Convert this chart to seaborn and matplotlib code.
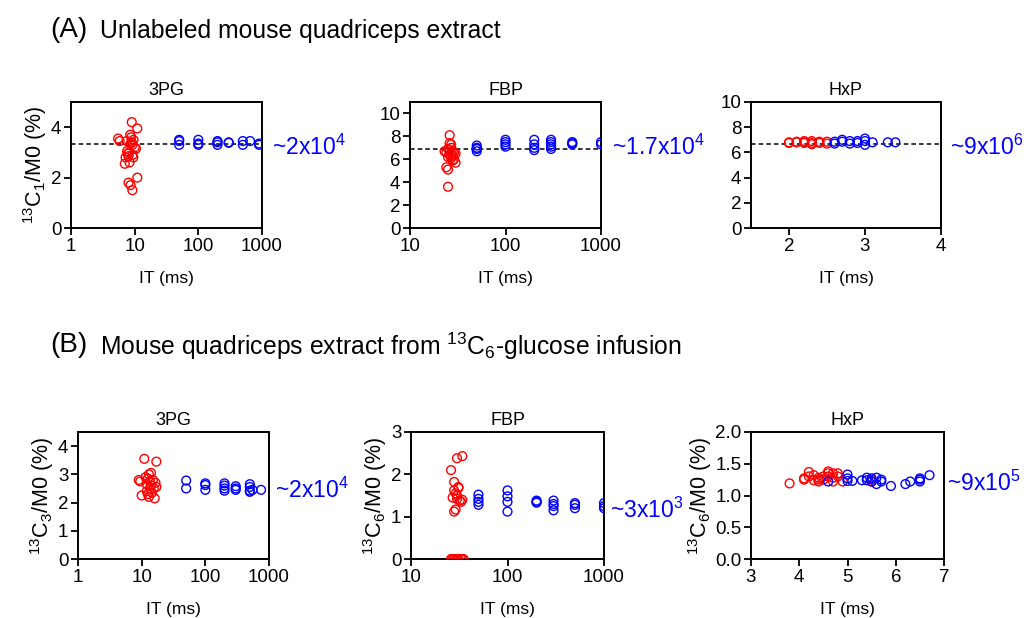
import matplotlib
matplotlib.use("Agg")
import matplotlib.pyplot as plt
import seaborn as sns
import pandas as pd

# ---- data ----
# (A) unlabeled extract
a_3pg_red_x = [5.5, 5.8, 7.0, 7.2, 7.5, 7.6, 7.8, 8.0, 8.2, 8.3, 8.5, 8.6, 8.8, 9.0, 9.0, 9.2, 9.3, 9.5, 9.6, 10.0, 10.5, 8.0, 8.6, 9.2, 11.0, 11.0]
a_3pg_red_y = [3.55, 3.45, 2.55, 2.8, 3.45, 3.05, 2.95, 2.85, 3.0, 2.6, 3.7, 3.35, 3.6, 3.4, 4.2, 3.3, 2.9, 2.8, 3.5, 3.2, 3.15, 1.8, 1.7, 1.5, 2.0, 3.95]
a_3pg_blue_x = [50, 50, 50, 100, 100, 100, 200, 200, 200, 300, 300, 500, 500, 650, 900, 900]
a_3pg_blue_y = [3.5, 3.45, 3.3, 3.5, 3.35, 3.3, 3.45, 3.4, 3.3, 3.4, 3.38, 3.45, 3.3, 3.45, 3.35, 3.3]

a_fbp_red_x = [23, 24, 24, 25, 25, 25, 26, 26, 26, 26, 27, 27, 27, 27, 28, 28, 28, 29, 29, 30, 30, 25]
a_fbp_red_y = [6.7, 6.6, 5.3, 6.9, 6.2, 5.1, 8.1, 7.4, 6.8, 6.4, 7.3, 7.0, 6.5, 6.1, 6.7, 6.3, 5.9, 6.6, 6.0, 6.5, 5.7, 3.6]
a_fbp_blue_x = [50, 50, 50, 50, 100, 100, 100, 100, 200, 200, 200, 200, 300, 300, 300, 300, 300, 500, 500, 500, 1000, 1000]
a_fbp_blue_y = [7.2, 7.0, 6.9, 6.7, 7.7, 7.5, 7.3, 7.1, 7.7, 7.3, 7.0, 6.8, 7.7, 7.5, 7.3, 7.1, 6.9, 7.5, 7.4, 7.3, 7.5, 7.3]

a_hxp_red_x = [2.0, 2.0, 2.1, 2.1, 2.2, 2.2, 2.2, 2.3, 2.3, 2.3, 2.4, 2.4, 2.5, 2.5]
a_hxp_red_y = [6.8, 6.75, 6.85, 6.8, 6.9, 6.8, 6.75, 6.9, 6.75, 6.65, 6.85, 6.75, 6.85, 6.7]
a_hxp_blue_x = [2.6, 2.6, 2.7, 2.7, 2.8, 2.8, 2.9, 2.9, 3.0, 3.0, 3.0, 3.1, 3.3, 3.4]
a_hxp_blue_y = [6.85, 6.7, 7.0, 6.85, 6.9, 6.7, 6.9, 6.75, 7.1, 6.9, 6.6, 6.8, 6.8, 6.8]

# (B) 13C6-glucose infusion
b_3pg_red_x = [9.0, 9.5, 10.0, 11.0, 11.5, 12.0, 12.0, 12.5, 13.0, 13.0, 13.5, 13.5, 14.0, 14.0, 14.5, 15.0, 15.5, 16.0, 16.5, 17.0, 12.5, 17.0]
b_3pg_red_y = [2.8, 2.75, 2.25, 3.55, 2.9, 2.65, 2.4, 2.85, 3.0, 2.2, 2.75, 2.5, 3.05, 2.6, 2.35, 2.8, 2.5, 2.15, 2.7, 3.45, 2.3, 2.55]
b_3pg_blue_x = [50, 50, 100, 100, 100, 200, 200, 200, 200, 300, 300, 300, 500, 500, 500, 500, 550, 750]
b_3pg_blue_y = [2.78, 2.5, 2.68, 2.62, 2.45, 2.68, 2.6, 2.5, 2.42, 2.58, 2.5, 2.45, 2.65, 2.55, 2.42, 2.38, 2.45, 2.45]

b_fbp_red_x = [26, 27, 28, 28, 28, 29, 29, 30, 30, 30, 31, 31, 32, 33, 34, 34,
               26, 27, 28, 29, 30, 31, 33, 34, 35]
b_fbp_red_y = [2.1, 1.45, 1.82, 1.62, 1.12, 1.55, 1.17, 2.38, 1.5, 1.42, 1.7, 1.68, 1.38, 1.35, 2.43, 1.4,
               0, 0, 0, 0, 0, 0, 0, 0, 0]
b_fbp_blue_x = [50, 50, 50, 50, 100, 100, 100, 100, 200, 200, 200, 300, 300, 300, 300, 500, 500, 500, 1000, 1000, 1000]
b_fbp_blue_y = [1.52, 1.42, 1.35, 1.28, 1.62, 1.48, 1.35, 1.12, 1.38, 1.35, 1.33, 1.38, 1.3, 1.25, 1.15, 1.32, 1.28, 1.2, 1.32, 1.25, 1.2]

b_hxp_red_x = [3.8, 4.1, 4.1, 4.2, 4.2, 4.3, 4.3, 4.4, 4.4, 4.4, 4.5, 4.5, 4.6, 4.6, 4.6, 4.7, 4.7, 4.7, 4.8, 4.8, 4.9, 5.5, 5.5]
b_hxp_red_y = [1.19, 1.25, 1.27, 1.37, 1.3, 1.32, 1.24, 1.25, 1.22, 1.28, 1.3, 1.25, 1.38, 1.35, 1.3, 1.35, 1.22, 1.28, 1.35, 1.3, 1.22, 1.25, 1.22]
b_hxp_blue_x = [4.6, 5.0, 5.0, 5.0, 5.1, 5.3, 5.4, 5.4, 5.5, 5.5, 5.6, 5.6, 5.7, 5.7, 5.9, 6.2, 6.3, 6.5, 6.5, 6.5, 6.7]
b_hxp_blue_y = [1.22, 1.33, 1.27, 1.23, 1.23, 1.24, 1.28, 1.24, 1.27, 1.22, 1.28, 1.18, 1.25, 1.22, 1.15, 1.18, 1.22, 1.27, 1.25, 1.22, 1.32]

ref_lines = {"A_3PG": 3.33, "A_FBP": 6.9, "A_HxP": 6.7}
labels_right = ["~2x10$^4$", "~1.7x10$^4$", "~9x10$^6$", "~2x10$^4$", "~3x10$^3$", "~9x10$^5$"]

sns.set_style("ticks")
plt.rcParams["font.family"] = ["Liberation Sans", "DejaVu Sans"]
plt.rcParams["mathtext.fontset"] = "custom"
plt.rcParams["mathtext.rm"] = "Liberation Sans"
plt.rcParams["mathtext.it"] = "Liberation Sans"
plt.rcParams["text.color"] = "black"
plt.rcParams["axes.labelcolor"] = "black"
plt.rcParams["xtick.color"] = "black"
plt.rcParams["ytick.color"] = "black"

W, H = 1029, 618
fig = plt.figure(figsize=(W / 100, H / 100), dpi=100)


def px_axes(x0, x1, y0, y1):
    return fig.add_axes([x0 / W, 1 - y1 / H, (x1 - x0) / W, (y1 - y0) / H])


def panel(ax, rx, ry, bx, by, title, xlim, ylim, yticks, xlog, ylabel=None, xticks=None, hline=None):
    df = pd.concat([
        pd.DataFrame({"x": rx, "y": ry, "grp": "red"}),
        pd.DataFrame({"x": bx, "y": by, "grp": "blue"}),
    ])
    if hline is not None:
        ax.axhline(hline, color="black", ls=(0, (3, 2)), lw=1.1, zorder=1)
    for grp, col in [("red", "#ff0000"), ("blue", "#0000ff")]:
        sns.scatterplot(data=df[df.grp == grp], x="x", y="y", ax=ax, marker="o",
                        facecolor="none", edgecolor=col, linewidth=1.0, s=40, zorder=3)
    if xlog:
        ax.set_xscale("log")
        ax.minorticks_off()
    ax.set_xlim(*xlim)
    ax.set_ylim(*ylim)
    ax.set_yticks(yticks)
    if xticks is not None:
        ax.set_xticks(xticks)
        ax.set_xticklabels([str(t) for t in xticks])
    ax.set_title(title, fontsize=13, pad=5)
    ax.set_xlabel("IT (ms)", fontsize=12.5, labelpad=12)
    ax.set_ylabel(ylabel if ylabel else "", fontsize=15.5, labelpad=1)
    ax.tick_params(labelsize=13.5, width=1.3, length=5, pad=2)
    for sp in ax.spines.values():
        sp.set_visible(True)
        sp.set_linewidth(1.4)
        sp.set_color("black")


ax1 = px_axes(71, 262, 102, 228)
panel(ax1, a_3pg_red_x, a_3pg_red_y, a_3pg_blue_x, a_3pg_blue_y, "3PG", (1, 1000), (0, 5), [0, 2, 4], True,
      "$^{13}$C$_1$/M0 (%)", [1, 10, 100, 1000], ref_lines["A_3PG"])
ax2 = px_axes(410, 601, 102, 228)
panel(ax2, a_fbp_red_x, a_fbp_red_y, a_fbp_blue_x, a_fbp_blue_y, "FBP", (10, 1000), (0, 11), [0, 2, 4, 6, 8, 10], True,
      None, [10, 100, 1000], ref_lines["A_FBP"])
ax3 = px_axes(751, 941, 102, 228)
panel(ax3, a_hxp_red_x, a_hxp_red_y, a_hxp_blue_x, a_hxp_blue_y, "HxP", (1.5, 4), (0, 10), [0, 2, 4, 6, 8, 10], False,
      None, [2, 3, 4], ref_lines["A_HxP"])

ax4 = px_axes(78, 269, 432, 559)
panel(ax4, b_3pg_red_x, b_3pg_red_y, b_3pg_blue_x, b_3pg_blue_y, "3PG", (1, 1000), (0, 4.5), [0, 1, 2, 3, 4], True,
      "$^{13}$C$_3$/M0 (%)", [1, 10, 100, 1000])
ax5 = px_axes(411, 604, 432, 559)
panel(ax5, b_fbp_red_x, b_fbp_red_y, b_fbp_blue_x, b_fbp_blue_y, "FBP", (10, 1000), (0, 3), [0, 1, 2, 3], True,
      "$^{13}$C$_6$/M0 (%)", [10, 100, 1000])
ax6 = px_axes(751, 944, 432, 559)
panel(ax6, b_hxp_red_x, b_hxp_red_y, b_hxp_blue_x, b_hxp_blue_y, "HxP", (3, 7), (0, 2), [0, 0.5, 1.0, 1.5, 2.0], False,
      "$^{13}$C$_6$/M0 (%)", [3, 4, 5, 6, 7])
ax6.set_yticklabels(["0.0", "0.5", "1.0", "1.5", "2.0"])

# blue annotations to the right of each panel
for (px, py), txt in zip([(272, 147), (612, 147), (950, 147), (275, 490), (610, 510), (947, 483)], labels_right):
    fig.text(px / W, 1 - py / H, txt, color="#0000ff", fontsize=16.5, va="center", ha="left")

# section headers
fig.text(50 / W, 1 - 30 / H, "(A)", fontsize=20, va="center")
fig.text(100 / W, 1 - 31 / H, "Unlabeled mouse quadriceps extract", fontsize=17.8, va="center")
fig.text(50 / W, 1 - 345 / H, "(B)", fontsize=20, va="center")
fig.text(100 / W, 1 - 346 / H, "Mouse quadriceps extract from $^{13}$C$_6$-glucose infusion", fontsize=17.8, va="center")

fig.savefig("out.png", dpi=100)
